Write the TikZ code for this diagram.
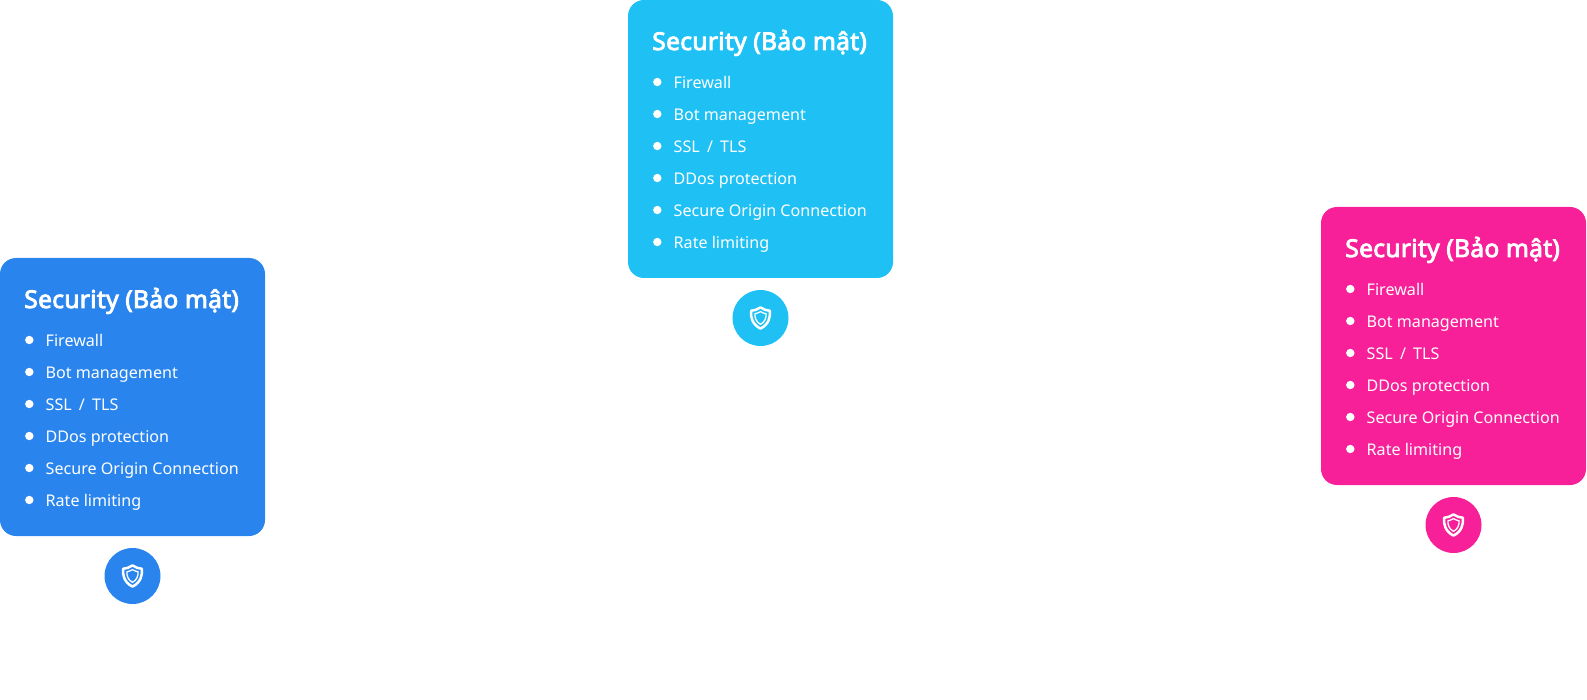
\documentclass[tikz,border=0pt]{standalone}
\usepackage{fontspec}
\setmainfont{Noto Sans}
\newfontfamily\titlefont[FakeBold=3.5,LetterSpace=1.4]{Noto Sans}
\definecolor{cblue}{HTML}{2985ED}
\definecolor{ccyan}{HTML}{1FC1F5}
\definecolor{cpink}{HTML}{F72098}
\tikzset{
  x=1pt,y=-1pt,
  cardbox/.style={fill=#1,draw=none,rounded corners=16pt,minimum width=265pt,minimum height=278pt,anchor=north west,inner sep=0pt,outer sep=0pt},
  badge/.style={fill=#1,draw=none,circle,minimum size=56pt,inner sep=0pt,outer sep=0pt},
  cardtitle/.style={text=white,anchor=base west,inner sep=0pt,outer sep=0pt,font=\titlefont\fontsize{24.5}{28}\selectfont},
  carditem/.style={text=white,anchor=base west,inner sep=0pt,outer sep=0pt,font=\fontsize{16.1}{18}\selectfont},
  bulletdot/.style={fill=white,draw=none,circle,minimum size=8.4pt,inner sep=0pt,outer sep=0pt},
  shieldout/.style={draw=white,line width=2.5pt,line join=round,fill=none},
  shieldin/.style={draw=white,line width=1.3pt,line join=round,fill=none},
}
\newcommand{\card}[4]{% name, x, y, colour
  \node[cardbox=#4] (#1box) at (#2,#3) {};
  \node[cardtitle] (#1title) at (#2+24.3,#3+50) {Security (Bảo mật)};
  \foreach \i/\t in {0/Firewall,1/Bot management,2/{SSL\hspace{3pt} / \hspace{3pt}TLS},3/DDos protection,4/Secure Origin Connection,5/Rate limiting}{
    \node[bulletdot] (#1dot\i) at (#2+29.3,#3+82+32*\i) {};
    \node[carditem] (#1item\i) at (#2+45.7,#3+88.7+32*\i) {\t};
  }
  \node[badge=#4] (#1badge) at (#2+132.5,#3+318) {};
  \begin{scope}[shift={(#2+132.5,#3+318)}]
    \draw[shieldout] (0,-10.6) .. controls (3,-8.4) and (6,-7.6) .. (9.4,-7.2)
      .. controls (10,-1) and (8.4,6.4) .. (0,10.6)
      .. controls (-8.4,6.4) and (-10,-1) .. (-9.4,-7.2)
      .. controls (-6,-7.6) and (-3,-8.4) .. (0,-10.6) -- cycle;
    \draw[shieldin] (0,-6.4) .. controls (1.9,-5.2) and (3.6,-4.6) .. (5.6,-4.2)
      .. controls (5.8,-0.6) and (4.7,3.8) .. (0,6.4)
      .. controls (-4.7,3.8) and (-5.8,-0.6) .. (-5.6,-4.2)
      .. controls (-3.6,-4.6) and (-1.9,-5.2) .. (0,-6.4) -- cycle;
  \end{scope}
}
\begin{document}
\begin{tikzpicture}
  \useasboundingbox (0,0) rectangle (1587,700);
  \card{a}{0}{258}{cblue}
  \card{b}{628}{0}{ccyan}
  \card{c}{1321}{207}{cpink}
\end{tikzpicture}
\end{document}
